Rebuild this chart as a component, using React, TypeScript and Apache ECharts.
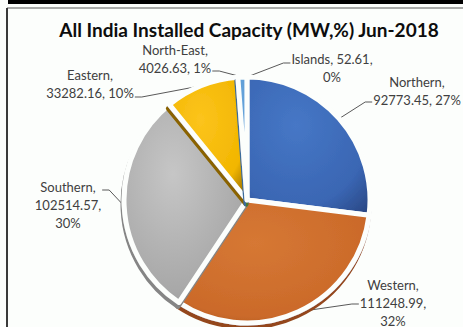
import React, { useEffect, useRef } from "react";
import * as echarts from "echarts";

const TITLE = "All India Installed Capacity (MW,%) Jun-2018";
const regions = ["Northern", "Western", "Southern", "Eastern", "North-East", "Islands"];
const capacityMW = [92773.45, 111248.99, 102514.57, 33282.16, 4026.63, 52.61];
// how Excel wrapped each label: which separators became line breaks
const labelBreaks = [
  [true, false],
  [true, true],
  [true, true],
  [true, false],
  [true, false],
  [false, true],
];

const baseColors = ["#3a66b3", "#cb6a2a", "#a8a8a8", "#f2b600", "#5b9bd5", "#70ad47"];
const lightColors = ["#4677c6", "#d67834", "#c6c6c6", "#fcc41c", "#6aa6dc", "#7bb852"];
const darkColors = ["#294784", "#94461a", "#858585", "#8a6400", "#3a6c9c", "#4e7a31"];

// label layout: [centerX, centerY, side of leader line, attach dy]
const LABEL_LAYOUT: [number, number, "left" | "right", number][] = [
  [417, 91, "left", 11],
  [393, 303, "left", 1],
  [68, 205, "right", -15],
  [90, 84, "right", 13],
  [175, 59, "right", 12],
  [332, 68, "left", -5],
];

const total = capacityMW.reduce((a, b) => a + b, 0);

function fmtLabel(i: number) {
  const [b1, b2] = labelBreaks[i];
  const pct = Math.round((capacityMW[i] / total) * 100) + "%";
  return (
    regions[i] + "," + (b1 ? "\n" : " ") + capacityMW[i].toFixed(2) + "," + (b2 ? "\n" : " ") + pct
  );
}

export default function App() {
  const ref = useRef<HTMLDivElement>(null);
  useEffect(() => {
    if (!ref.current) return;
    const chart = echarts.init(ref.current, null, { renderer: "svg" });
    const data = regions.map((name, i) => ({
      name,
      value: capacityMW[i],
      itemStyle: {
        color: new echarts.graphic.RadialGradient(0.4, 0.35, 0.85, [
          { offset: 0, color: lightColors[i] },
          { offset: 0.7, color: baseColors[i] },
          { offset: 1, color: darkColors[i] },
        ]),
        shadowColor: darkColors[i],
        shadowBlur: 1,
        shadowOffsetX: -1,
        shadowOffsetY: 4,
      },
    }));
    chart.setOption({
      animation: false,
      backgroundColor: "#fcfefc",
      title: {
        text: TITLE,
        left: 249,
        top: 20,
        textAlign: "center",
        padding: 0,
        textStyle: {
          fontFamily: "Lato",
          fontWeight: "bold",
          fontSize: 19,
          color: "#0d0d0d",
        },
      },
      graphic: [
        { type: "rect", shape: { x: 8, y: 0, width: 460, height: 4 }, style: { fill: "#000" }, silent: true },
        { type: "line", shape: { x1: 7, y1: 8, x2: 463, y2: 8 }, style: { stroke: "#595959", lineWidth: 1 }, silent: true },
        { type: "line", shape: { x1: 7, y1: 8, x2: 7, y2: 327 }, style: { stroke: "#3a3a3a", lineWidth: 2 }, silent: true },
      ],
      series: [
        {
          type: "pie",
          center: [247, 200],
          radius: 123,
          startAngle: 90,
          clockwise: true,
          avoidLabelOverlap: false,
          emphasis: { disabled: true },
          itemStyle: { borderColor: "#fcfefc", borderWidth: 5 },
          label: {
            show: true,
            position: "outside",
            formatter: (p: any) => fmtLabel(p.dataIndex),
            fontFamily: "Lato",
            fontSize: 13,
            lineHeight: 18,
            color: "#404040",
            align: "center",
          },
          labelLine: {
            show: true,
            length: 10,
            length2: 10,
            lineStyle: { color: "#595959", width: 1 },
          },
          labelLayout: (params: any) => {
            const [x, y, side, dy] = LABEL_LAYOUT[params.dataIndex];
            const w = params.labelRect.width;
            const ex = side === "left" ? x - w / 2 - 1 : x + w / 2 + 1;
            const ey = y + dy;
            const p0 = params.labelLinePoints ? params.labelLinePoints[0] : [ex, ey];
            const bend = [side === "left" ? ex - 7 : ex + 7, ey];
            return {
              x,
              y,
              align: "center",
              verticalAlign: "middle",
              labelLinePoints: [p0, bend, [ex, ey]],
            };
          },
          data,
        },
      ],
    });
    return () => chart.dispose();
  }, []);
  return (
    <div
      ref={ref}
      style={{ position: "absolute", left: 0, top: 0, width: 463, height: 327 }}
    />
  );
}
